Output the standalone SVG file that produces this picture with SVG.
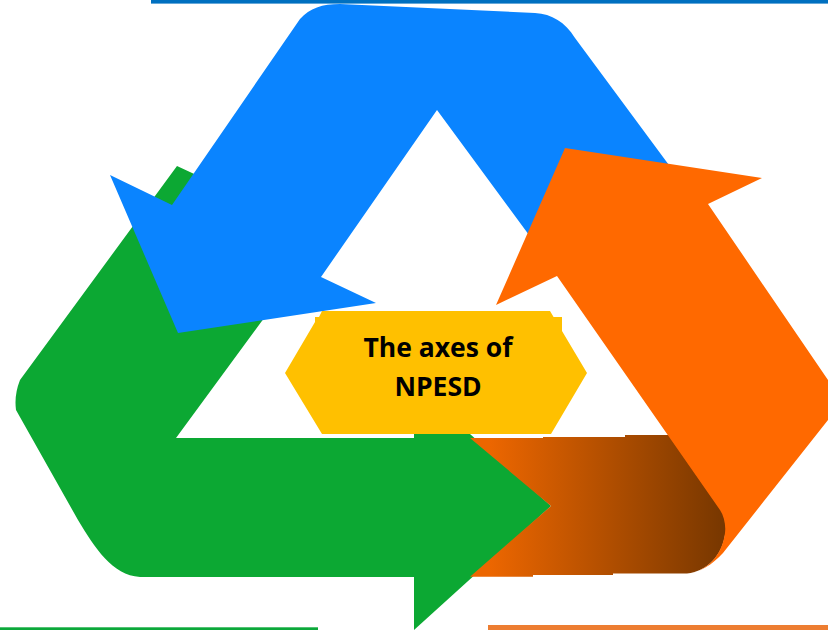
<svg xmlns="http://www.w3.org/2000/svg" width="828" height="630" viewBox="0 0 828 630">
<style>
.green{fill:#0CA833}.blue{fill:#0A84FF}.orange{fill:#FF6900}
.t{font-family:"Open Sans","Liberation Sans",sans-serif;font-weight:700;font-size:26.5px;fill:#000;text-anchor:middle}
</style>
<defs><linearGradient id="g" gradientUnits="userSpaceOnUse" x1="490" y1="0" x2="725" y2="0"><stop offset="0" stop-color="#EC6600"/><stop offset="1" stop-color="#773700"/></linearGradient></defs>
<rect width="828" height="630" fill="#fff"/>
<g id="lines">
<rect x="151" y="0" width="677" height="3.6" fill="#0070C0"/>
<rect x="0" y="627.3" width="318" height="2.7" fill="#0CA83A"/>
<rect x="488" y="625" width="340" height="5" fill="#ED7D31"/>
</g>
<g id="connectors">
<path id="arrow-green" class="green" d="M177 166L205 179L270 310L176 438H414V434H470L551 506L414 630V577H140C112 575 95 548 78 520L16 410Q14 395 20 380Z"/>
<path id="arrow-blue" class="blue" d="M110 175L172 205L300 19C310 8 322 4 340 4L535 13C552 14 565 22 575 38L680 180L540 250L437 110L321 277L376 303L178 333Z"/>
<path id="arrow-band" fill="url(#g)" d="M470 438H543V437H625V435H680L730 520L725 535C722 555 708 571 687 573.5H613V575H533V576.7H470L551 506Z"/>
<path id="arrow-orange" class="orange" d="M565 148L762 178L708 204L828 380V420L723 553C712 565 700 572 687 574C708 571 722 555 725 533C726 525 724 516 720 510L557 276L496 305Z"/>
</g>
<g id="center">
<path fill="#FFC000" d="M285 373L315 322V317H319L322 311H550L553.6 317H562V331L587 373L551 434H322Z"/>
<text class="t" x="438" y="357">The axes of</text>
<text class="t" x="438" y="396">NPESD</text>
</g>
</svg>
